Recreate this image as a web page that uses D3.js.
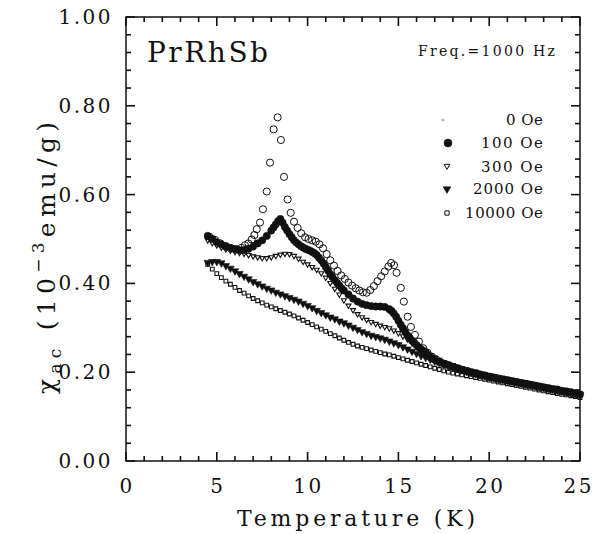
<!DOCTYPE html>
<html>
<head>
<meta charset="utf-8">
<script src="https://cdn.jsdelivr.net/npm/d3@7"></script>
<style>
  body { margin: 0; background: #fff; }
</style>
</head>
<body>
<div id="wrapper"></div>
<script>
// temperature grid (K) shared by the dense series
const tGrid = [
  4.5, 4.75, 5, 5.25, 5.5, 5.75, 6, 6.25, 6.5, 6.75,
  7, 7.25, 7.5, 7.75, 8, 8.25, 8.5, 8.75, 9, 9.25,
  9.5, 9.75, 10, 10.25, 10.5, 10.75, 11, 11.25, 11.5, 11.75,
  12, 12.25, 12.5, 12.75, 13, 13.25, 13.5, 13.75, 14, 14.25,
  14.5, 14.75, 15, 15.25, 15.5, 15.75, 16, 16.25, 16.5, 16.75,
  17, 17.25, 17.5, 17.75, 18, 18.25, 18.5, 18.75, 19, 19.25,
  19.5, 19.75, 20, 20.25, 20.5, 20.75, 21, 21.25, 21.5, 21.75,
  22, 22.25, 22.5, 22.75, 23, 23.25, 23.5, 23.75, 24, 24.25,
  24.5, 24.75, 25
]

// 100 Oe run, denser where the curve is steep
const t100 = [
  4.5, 4.75, 5, 5.25, 5.5, 5.75, 6, 6.25, 6.5, 6.75, 7, 7.25, 7.5, 7.75, 8,
  8.125, 8.25, 8.375, 8.5, 8.625, 8.75, 8.875, 9, 9.125, 9.25, 9.375, 9.5, 9.625, 9.75, 9.875, 10,
  10.125, 10.25, 10.375, 10.5, 10.625, 10.75, 10.875, 11, 11.125, 11.25, 11.375, 11.5, 11.625, 11.75, 11.875, 12,
  12.25, 12.5, 12.75, 13, 13.25, 13.5, 13.75, 14, 14.25, 14.5,
  14.625, 14.75, 14.875, 15, 15.125, 15.25, 15.375, 15.5, 15.625, 15.75,
  15.875, 16, 16.125, 16.25, 16.375, 16.5, 16.625, 16.75, 16.875, 17,
  17.25, 17.5, 17.75, 18, 18.25, 18.5, 18.75, 19, 19.25, 19.5,
  19.75, 20, 20.25, 20.5, 20.75, 21, 21.25, 21.5, 21.75, 22,
  22.25, 22.5, 22.75, 23, 23.25, 23.5, 23.75, 24, 24.25, 24.5,
  24.75, 25
]
const chi100 = [
  0.507, 0.500, 0.493, 0.488, 0.483, 0.480, 0.477, 0.475, 0.475, 0.478, 0.483, 0.490, 0.497, 0.507, 0.519,
  0.526, 0.533, 0.540, 0.545, 0.537, 0.527, 0.519, 0.511, 0.504, 0.497, 0.492, 0.488, 0.484, 0.481, 0.478, 0.476,
  0.474, 0.471, 0.468, 0.464, 0.458, 0.452, 0.445, 0.437, 0.429, 0.421, 0.414, 0.407, 0.401, 0.395, 0.389, 0.384,
  0.375, 0.366, 0.359, 0.354, 0.351, 0.349, 0.348, 0.348, 0.347, 0.342,
  0.338, 0.332, 0.325, 0.316, 0.307, 0.299, 0.291, 0.283, 0.277, 0.271,
  0.266, 0.261, 0.256, 0.252, 0.248, 0.244, 0.239, 0.235, 0.231, 0.228,
  0.223, 0.219, 0.216, 0.212, 0.209, 0.206, 0.203, 0.200, 0.198, 0.195,
  0.193, 0.190, 0.188, 0.186, 0.184, 0.182, 0.180, 0.178, 0.176, 0.174,
  0.172, 0.170, 0.168, 0.166, 0.164, 0.162, 0.161, 0.158, 0.157, 0.155,
  0.152, 0.150
]

const chi300 = [
  0.497, 0.491, 0.486, 0.481, 0.477, 0.474, 0.471, 0.469, 0.467, 0.464,
  0.461, 0.459, 0.457, 0.457, 0.459, 0.462, 0.465, 0.467, 0.466, 0.462,
  0.456, 0.449, 0.443, 0.437, 0.431, 0.423, 0.413, 0.401, 0.388, 0.375,
  0.362, 0.350, 0.340, 0.331, 0.324, 0.318, 0.313, 0.309, 0.305, 0.302,
  0.299, 0.294, 0.288, 0.281, 0.274, 0.266, 0.259, 0.252, 0.246, 0.239,
  0.233, 0.228, 0.223, 0.219, 0.216, 0.212, 0.209, 0.206, 0.203, 0.201,
  0.198, 0.195, 0.193, 0.191, 0.188, 0.186, 0.184, 0.182, 0.180, 0.178,
  0.176, 0.174, 0.172, 0.170, 0.168, 0.166, 0.164, 0.162, 0.160, 0.158,
  0.156, 0.154, 0.152
]

const chi2000 = [
  0.447, 0.449, 0.449, 0.446, 0.440, 0.434, 0.428, 0.422, 0.416, 0.410,
  0.404, 0.399, 0.394, 0.389, 0.385, 0.380, 0.376, 0.372, 0.368, 0.364,
  0.360, 0.355, 0.350, 0.345, 0.339, 0.334, 0.329, 0.324, 0.320, 0.315,
  0.311, 0.306, 0.301, 0.296, 0.291, 0.287, 0.283, 0.280, 0.277, 0.274,
  0.270, 0.266, 0.262, 0.257, 0.252, 0.247, 0.242, 0.237, 0.233, 0.229,
  0.225, 0.221, 0.217, 0.214, 0.211, 0.208, 0.205, 0.202, 0.199, 0.197,
  0.194, 0.192, 0.189, 0.187, 0.185, 0.183, 0.181, 0.179, 0.177, 0.175,
  0.173, 0.171, 0.169, 0.167, 0.165, 0.163, 0.161, 0.159, 0.157, 0.155,
  0.153, 0.151, 0.149
]

const chi10000 = [
  0.443, 0.432, 0.422, 0.413, 0.405, 0.398, 0.391, 0.384, 0.378, 0.372,
  0.366, 0.361, 0.356, 0.351, 0.347, 0.343, 0.339, 0.335, 0.331, 0.327,
  0.322, 0.317, 0.312, 0.307, 0.302, 0.297, 0.292, 0.287, 0.282, 0.277,
  0.272, 0.267, 0.263, 0.259, 0.256, 0.253, 0.250, 0.247, 0.244, 0.241,
  0.239, 0.236, 0.233, 0.230, 0.227, 0.224, 0.221, 0.218, 0.215, 0.212,
  0.209, 0.206, 0.203, 0.200, 0.198, 0.196, 0.194, 0.192, 0.190, 0.188,
  0.186, 0.184, 0.182, 0.180, 0.178, 0.176, 0.174, 0.172, 0.170, 0.168,
  0.166, 0.164, 0.162, 0.160, 0.158, 0.156, 0.154, 0.152, 0.150, 0.149,
  0.147, 0.145, 0.143
]

// zero field run has its own (sparser) temperatures
const t0 = [
  4.6, 4.9, 5.2, 5.5, 5.8, 6.1, 6.35, 6.55, 6.74, 6.92,
  7.07, 7.2, 7.38, 7.54, 7.75, 7.93, 8.13, 8.35, 8.53, 8.7,
  8.9, 9.07, 9.25, 9.45, 9.65, 9.86, 10.05, 10.25, 10.45, 10.65,
  10.85, 11.05, 11.25, 11.45, 11.65, 11.85, 12.05, 12.25, 12.45, 12.65,
  12.85, 13.05, 13.25, 13.45, 13.65, 13.85, 14.05, 14.25, 14.45, 14.6,
  14.76, 14.9, 15.13, 15.3, 15.51, 15.69, 15.91, 16.13, 16.37, 16.6,
  16.85, 17.1, 17.35, 17.6, 17.85, 18.1, 18.35, 18.6, 18.85, 19.1,
  19.35, 19.6, 19.85, 20.1, 20.35, 20.6, 20.85, 21.1, 21.35, 21.6,
  21.85, 22.1, 22.35, 22.6, 22.85, 23.1, 23.35, 23.6, 23.85, 24.1,
  24.35, 24.6, 24.85
]
const chi0 = [
  0.505, 0.498, 0.490, 0.484, 0.479, 0.477, 0.480, 0.486, 0.490, 0.499,
  0.509, 0.522, 0.537, 0.567, 0.607, 0.672, 0.747, 0.774, 0.723, 0.640,
  0.589, 0.559, 0.539, 0.525, 0.513, 0.504, 0.500, 0.497, 0.494, 0.488,
  0.479, 0.466, 0.452, 0.440, 0.428, 0.418, 0.410, 0.402, 0.395, 0.389,
  0.384, 0.380, 0.379, 0.385, 0.394, 0.405, 0.416, 0.427, 0.438, 0.446,
  0.441, 0.424, 0.390, 0.359, 0.325, 0.302, 0.284, 0.269, 0.254, 0.244,
  0.235, 0.228, 0.222, 0.218, 0.214, 0.210, 0.207, 0.204, 0.201, 0.198,
  0.196, 0.193, 0.191, 0.189, 0.187, 0.185, 0.183, 0.181, 0.179, 0.177,
  0.175, 0.173, 0.171, 0.169, 0.167, 0.165, 0.163, 0.161, 0.159, 0.157,
  0.155, 0.153, 0.151
]

const legendLabels = ['0 Oe', '100 Oe', '300 Oe', '2000 Oe', '10000 Oe']
const xTicks = [0, 5, 10, 15, 20, 25]
const yTicks = [0, 0.2, 0.4, 0.6, 0.8, 1.0]

function drawChart() {
  const ink = '#111'
  const serif = "'DejaVu Serif', 'Liberation Serif', serif"

  let dimensions = {
    width: 594,
    height: 534,
    margins: { top: 17, right: 14, bottom: 73, left: 126 }
  }
  dimensions.boundedWidth = dimensions.width - dimensions.margins.left - dimensions.margins.right
  dimensions.boundedHeight = dimensions.height - dimensions.margins.top - dimensions.margins.bottom
  const W = dimensions.boundedWidth
  const H = dimensions.boundedHeight

  const wrapper = d3.select('#wrapper').append('svg')
    .attr('width', dimensions.width)
    .attr('height', dimensions.height)

  const bounds = wrapper.append('g')
    .attr('transform', `translate(${dimensions.margins.left},${dimensions.margins.top})`)

  const xScale = d3.scaleLinear().domain([0, 25]).range([0, W])
  const yScale = d3.scaleLinear().domain([0, 1]).range([H, 0])

  // series -> points
  const zip = (ts, vs) => ts.map((t, i) => ({ t: t, v: vs[i] }))
  const series = [
    { data: zip(tGrid, chi10000), sym: d3.symbolSquare, size: 14, fill: 'none', rot: 0, sw: 1.1 },
    { data: zip(tGrid, chi2000), sym: d3.symbolTriangle, size: 24, fill: ink, rot: 180, sw: 0.6 },
    { data: zip(tGrid, chi300), sym: d3.symbolTriangle, size: 11, fill: 'none', rot: 180, sw: 1.1 },
    { data: zip(t100, chi100), sym: d3.symbolCircle, size: 42, fill: ink, rot: 0, sw: 0.5 },
    { data: zip(t0, chi0), sym: d3.symbolCircle, size: 40, fill: 'none', rot: 0, sw: 1 }
  ]

  series.forEach(s => {
    const gen = d3.symbol().type(s.sym).size(s.size)
    bounds.append('g').selectAll('path')
      .data(s.data)
      .enter().append('path')
      .attr('d', gen)
      .attr('transform', d => `translate(${xScale(d.t)},${yScale(d.v)}) rotate(${s.rot})`)
      .attr('fill', s.fill)
      .attr('stroke', ink)
      .attr('stroke-width', s.sw)
  })

  // ticks on all four sides, pointing inward (drawn as thin filled bars)
  const xMinor = d3.range(0, 25.001, 1)
  const yMinor = d3.range(0, 1.0001, 0.04)
  const isMajorX = d => Math.abs(d % 5) < 1e-6
  const isMajorY = d => Math.abs(Math.round(d * 5) - d * 5) < 1e-6
  const xLen = d => (isMajorX(d) ? 9 : 5)
  const yLen = d => (isMajorY(d) ? 9 : 5)
  const tw = 1.6
  const tickG = bounds.append('g').attr('fill', ink)

  tickG.selectAll('.xb').data(xMinor).enter().append('rect').attr('class', 'xb')
    .attr('x', d => xScale(d) - tw / 2).attr('y', d => H - xLen(d))
    .attr('width', tw).attr('height', d => xLen(d))
  tickG.selectAll('.xt').data(xMinor).enter().append('rect').attr('class', 'xt')
    .attr('x', d => xScale(d) - tw / 2).attr('y', 0)
    .attr('width', tw).attr('height', d => xLen(d))
  tickG.selectAll('.yl').data(yMinor).enter().append('rect').attr('class', 'yl')
    .attr('x', 0).attr('y', d => yScale(d) - tw / 2)
    .attr('width', d => yLen(d)).attr('height', tw)
  tickG.selectAll('.yr').data(yMinor).enter().append('rect').attr('class', 'yr')
    .attr('x', d => W - yLen(d)).attr('y', d => yScale(d) - tw / 2)
    .attr('width', d => yLen(d)).attr('height', tw)

  // tick labels
  const labelStyle = sel => sel
    .attr('fill', ink)
    .style('font-family', serif)
    .style('font-size', '20px')
    .style('letter-spacing', '2.5px')

  bounds.append('g').selectAll('text')
    .data(xTicks).enter().append('text')
    .attr('x', (d, i) => i === xTicks.length - 1 ? W + 14 : xScale(d) + 1)
    .attr('y', H + 32)
    .attr('text-anchor', (d, i) => i === xTicks.length - 1 ? 'end' : 'middle')
    .text(d3.format('d'))
    .call(labelStyle)

  bounds.append('g').selectAll('text')
    .data(yTicks).enter().append('text')
    .attr('x', -13)
    .attr('y', d => yScale(d) + 7)
    .attr('text-anchor', 'end')
    .text(d3.format('.2f'))
    .call(labelStyle)

  bounds.append('rect')
    .attr('width', W)
    .attr('height', H)
    .attr('fill', 'none')
    .attr('stroke', ink)
    .attr('stroke-width', 1.5)

  // axis titles
  wrapper.append('text')
    .attr('x', 356)
    .attr('y', 526)
    .attr('text-anchor', 'middle')
    .attr('textLength', 238)
    .attr('lengthAdjust', 'spacing')
    .attr('fill', ink)
    .style('font-family', serif)
    .style('font-size', '22px')
    .text('Temperature (K)')

  const yLabel = wrapper.append('text')
    .attr('transform', 'translate(55,258) rotate(-90)')
    .attr('text-anchor', 'middle')
    .attr('textLength', 272)
    .attr('lengthAdjust', 'spacing')
    .attr('fill', ink)
    .style('font-family', serif)
    .style('font-size', '25px')
  yLabel.append('tspan').text('χ')
  yLabel.append('tspan').attr('dy', 6).style('font-size', '17px').text('ac')
  yLabel.append('tspan').attr('dy', -6).text(' (10')
  yLabel.append('tspan').attr('dy', -11).style('font-size', '17px').text('−3')
  yLabel.append('tspan').attr('dy', 11).text('emu/g)')

  // annotations
  wrapper.append('text')
    .attr('x', 147)
    .attr('y', 62)
    .attr('textLength', 121)
    .attr('lengthAdjust', 'spacing')
    .attr('fill', ink)
    .style('font-family', serif)
    .style('font-size', '28px')
    .text('PrRhSb')

  wrapper.append('text')
    .attr('x', 418)
    .attr('y', 56)
    .attr('textLength', 137)
    .attr('lengthAdjust', 'spacing')
    .attr('fill', ink)
    .style('font-family', serif)
    .style('font-size', '14px')
    .text('Freq.=1000 Hz')

  // legend
  const legendRows = [
    { sym: d3.symbolCircle, size: 3, fill: 'none', rot: 0, sx: 443, y: 120, w: 37, base: 125 },
    { sym: d3.symbolCircle, size: 50, fill: ink, rot: 0, sx: 448, y: 143, w: 62, base: 148 },
    { sym: d3.symbolTriangle, size: 14, fill: 'none', rot: 180, sx: 447, y: 166, w: 62, base: 172 },
    { sym: d3.symbolTriangle, size: 26, fill: ink, rot: 180, sx: 447, y: 189, w: 70, base: 194 },
    { sym: d3.symbolSquare, size: 18, fill: 'none', rot: 0, sx: 447, y: 213, w: 78, base: 218 }
  ]
  const legend = wrapper.append('g')
  legendRows.forEach((r, i) => {
    legend.append('path')
      .attr('d', d3.symbol().type(r.sym).size(r.size))
      .attr('transform', `translate(${r.sx},${r.y}) rotate(${r.rot})`)
      .attr('fill', r.fill)
      .attr('stroke', i === 0 ? '#999' : ink)
      .attr('stroke-width', r.fill === 'none' ? 1 : 0.5)
    legend.append('text')
      .attr('x', 543)
      .attr('y', r.base)
      .attr('text-anchor', 'end')
      .attr('textLength', r.w)
      .attr('lengthAdjust', 'spacing')
      .attr('fill', ink)
      .style('font-family', serif)
      .style('font-size', '15px')
      .text(legendLabels[i])
  })
}
drawChart()
</script>
</body>
</html>
